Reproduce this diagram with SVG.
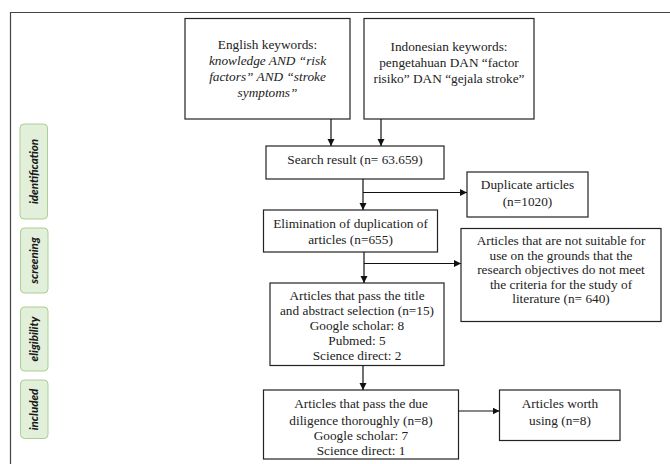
<svg xmlns="http://www.w3.org/2000/svg" width="670" height="464" viewBox="0 0 670 464">
<defs>
<marker id="ah" markerWidth="8" markerHeight="8" refX="7" refY="4" orient="auto" markerUnits="userSpaceOnUse">
<path d="M0,0.5 L7,4 L0,7.5 Z" fill="#111"/>
</marker>
<style>
.box{fill:#fff;stroke:#222;stroke-width:1.2}
.t{font-family:"Liberation Serif","Times New Roman",serif;font-size:13.3px;fill:#222;text-anchor:middle}
.i{font-style:italic}
.pill{fill:#e2efda;stroke:#a9d08e;stroke-width:1}
.pt{font-family:Lato,"Liberation Sans",sans-serif;font-size:11.5px;font-weight:900;font-style:italic;fill:#1a1a1a;text-anchor:middle}
.c{stroke:#111;stroke-width:1.2;fill:none}
</style>
</defs>
<rect width="670" height="464" fill="#fff"/>
<path d="M10.5,464 V12.5 H670" fill="none" stroke="#444" stroke-width="1.2"/>

<g id="pill-identification"><rect class="pill" x="20" y="124" width="27.5" height="95" rx="4"/><text class="pt" transform="translate(37.5,171.5) rotate(-90)">identification</text></g>
<g id="pill-screening"><rect class="pill" x="20.5" y="228" width="27.5" height="65" rx="4"/><text class="pt" transform="translate(38,260.5) rotate(-90)">screening</text></g>
<g id="pill-eligibility"><rect class="pill" x="20.5" y="307" width="27.5" height="64" rx="4"/><text class="pt" transform="translate(38,339) rotate(-90)">eligibility</text></g>
<g id="pill-included"><rect class="pill" x="20.5" y="380" width="27.5" height="58.5" rx="4"/><text class="pt" transform="translate(38,409.5) rotate(-90)">included</text></g>

<g id="english">
<rect class="box" x="185" y="18.5" width="165" height="100.5"/>
<text class="t" x="267.5" y="48.5">English keywords:</text>
<text class="t i" x="267.5" y="65">knowledge AND “risk</text>
<text class="t i" x="267.5" y="81">factors” AND “stroke</text>
<text class="t i" x="267.5" y="96.5">symptoms”</text>
</g>
<g id="indonesian">
<rect class="box" x="364" y="18.5" width="170" height="100.5"/>
<text class="t" x="449" y="51">Indonesian keywords:</text>
<text class="t" x="449" y="67">pengetahuan DAN “factor</text>
<text class="t" x="449" y="83">risiko” DAN “gejala stroke”</text>
</g>
<g id="search">
<rect class="box" x="266" y="146" width="178" height="33"/>
<text class="t" x="355" y="163.5">Search result (n= 63.659)</text>
</g>
<g id="duplicate">
<rect class="box" x="467" y="172" width="121" height="45"/>
<text class="t" x="527.5" y="188.5">Duplicate articles</text>
<text class="t" x="527.5" y="205.5">(n=1020)</text>
</g>
<g id="elimination">
<rect class="box" x="263.5" y="210" width="174" height="42"/>
<text class="t" x="350.5" y="227.5">Elimination of duplication of</text>
<text class="t" x="350.5" y="244">articles (n=655)</text>
</g>
<g id="notsuitable">
<rect class="box" x="461" y="228.5" width="200" height="93"/>
<text class="t" x="561" y="245">Articles that are not suitable for</text>
<text class="t" x="561" y="259.5">use on the grounds that the</text>
<text class="t" x="561" y="274">research objectives do not meet</text>
<text class="t" x="561" y="288.5">the criteria for the study of</text>
<text class="t" x="561" y="303">literature (n= 640)</text>
</g>
<g id="title">
<rect class="box" x="270" y="283" width="174" height="82.5"/>
<text class="t" x="357" y="299.5">Articles that pass the title</text>
<text class="t" x="357" y="314.5">and abstract selection (n=15)</text>
<text class="t" x="357" y="329.5">Google scholar: 8</text>
<text class="t" x="357" y="344.5">Pubmed: 5</text>
<text class="t" x="357" y="359.5">Science direct: 2</text>
</g>
<g id="diligence">
<rect class="box" x="263.5" y="390" width="195" height="69"/>
<text class="t" x="361" y="407.5">Articles that pass the due</text>
<text class="t" x="361" y="424.5">diligence thoroughly (n=8)</text>
<text class="t" x="361" y="440">Google scholar: 7</text>
<text class="t" x="361" y="455">Science direct: 1</text>
</g>
<g id="worth">
<rect class="box" x="499.5" y="390" width="120.5" height="50.5"/>
<text class="t" x="560" y="407.5">Articles worth</text>
<text class="t" x="560" y="424.5">using (n=8)</text>
</g>

<g id="connectors">
<line class="c" x1="331" y1="119" x2="331" y2="146" marker-end="url(#ah)"/>
<line class="c" x1="381" y1="119" x2="381" y2="146" marker-end="url(#ah)"/>
<line class="c" x1="363" y1="179" x2="363" y2="210" marker-end="url(#ah)"/>
<line class="c" x1="363" y1="192.5" x2="467" y2="192.5" marker-end="url(#ah)"/>
<line class="c" x1="364" y1="252" x2="364" y2="283" marker-end="url(#ah)"/>
<line class="c" x1="364" y1="263.5" x2="461" y2="263.5" marker-end="url(#ah)"/>
<line class="c" x1="363" y1="365.5" x2="363" y2="390" marker-end="url(#ah)"/>
<line class="c" x1="458.5" y1="411" x2="499.5" y2="411" marker-end="url(#ah)"/>
</g>
</svg>
